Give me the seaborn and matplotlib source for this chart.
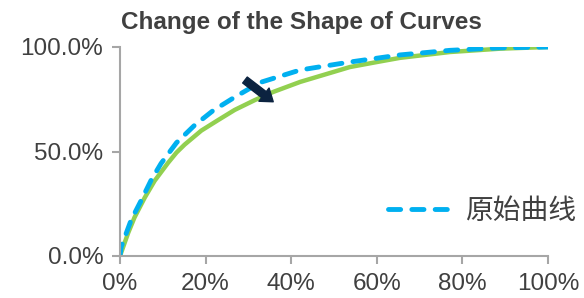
import matplotlib
matplotlib.use("Agg")
import matplotlib.pyplot as plt
import matplotlib.ticker as mticker
import pandas as pd
import seaborn as sns

# values (percent)
new_x = [0, 1.9, 3.4, 5.8, 8.1, 11.2, 13.2, 15.1, 19, 22.9, 26.8, 31.5, 35.8, 42.1, 53.7, 60, 65.4, 77.1, 88.8, 100]
new_y = [0, 11, 18.5, 28, 36, 44.5, 49.5, 53.3, 60, 65, 69.9, 74.6, 78.5, 83.3, 90.4, 92.8, 94.8, 97.6, 99.2, 100]

orig_x = [0, 0.3, 2.6, 5, 7.3, 9.6, 13.2, 17.4, 21.7, 26.8, 32.7, 42.1, 53.7, 65.4, 77.1, 88.8, 100]
orig_y = [0, 4.5, 17.2, 26.8, 36.4, 44.3, 54.2, 62.5, 69.5, 76, 83, 89, 92.8, 96.2, 98.4, 99.6, 100]

arrow_from = (29.2, 84.2)
arrow_to = (35.8, 73.8)

title = "Change of the Shape of Curves"
legend_label = "原始曲线"

sns.set_style("ticks")
plt.rcParams['font.family'] = ['Liberation Sans', 'Noto Sans CJK SC', 'DejaVu Sans']

GREEN = "#92D050"
BLUE = "#00B0F0"
NAVY = "#0C2340"
TEXT = "#404040"
AXIS = "#A6A6A6"

new_df = pd.DataFrame({"x": [v / 100 for v in new_x], "y": [v / 100 for v in new_y]})
orig_df = pd.DataFrame({"x": [v / 100 for v in orig_x], "y": [v / 100 for v in orig_y]})

fig = plt.figure(figsize=(5.84, 2.98), dpi=100)
ax = fig.add_axes([120 / 584, 1 - 256 / 298, 428 / 584, 209 / 298])

sns.lineplot(data=new_df, x="x", y="y", ax=ax, color=GREEN, linewidth=3.2,
             sort=False, solid_capstyle="round", solid_joinstyle="round")
sns.lineplot(data=orig_df, x="x", y="y", ax=ax, color=BLUE, linewidth=3.5,
             sort=False, label=legend_label)
line = ax.lines[-1]
line.set_dashes((2.5, 2.3))
line.set_dash_capstyle("round")

ax.annotate("", xy=(arrow_to[0] / 100, arrow_to[1] / 100),
            xytext=(arrow_from[0] / 100, arrow_from[1] / 100),
            arrowprops=dict(arrowstyle="simple,head_length=0.7,head_width=1.0,tail_width=0.45",
                            color=NAVY, shrinkA=0, shrinkB=0, mutation_scale=12))

ax.set_xlim(0, 1)
ax.set_ylim(0, 1)
ax.set_xticks([0, 0.2, 0.4, 0.6, 0.8, 1.0])
ax.set_yticks([0, 0.5, 1.0])
ax.xaxis.set_major_formatter(mticker.PercentFormatter(1.0, decimals=0))
ax.yaxis.set_major_formatter(mticker.PercentFormatter(1.0, decimals=1))
ax.set_xlabel("")
ax.set_ylabel("")
ax.tick_params(axis="both", labelsize=17.5, colors=AXIS, labelcolor=TEXT,
               length=6, width=1.5, direction="out")
ax.tick_params(axis="y", pad=6)
ax.tick_params(axis="x", pad=6.5)
sns.despine(ax=ax)
for s in ["left", "bottom"]:
    ax.spines[s].set_color(AXIS)
    ax.spines[s].set_linewidth(1.5)
for lbl in ax.get_xticklabels() + ax.get_yticklabels():
    lbl.set_clip_on(False)

ax.legend(loc="center left", bbox_to_anchor=(0.626, 0.21), frameon=False,
          fontsize=20, handlelength=2.4, handletextpad=0.36,
          borderpad=0, borderaxespad=0, labelcolor=TEXT)

fig.text(0.516, 1 - 29 / 298, title, ha="center", va="baseline",
         fontsize=17.5, fontweight="bold", color=TEXT)

fig.savefig("out.png", dpi=100)
